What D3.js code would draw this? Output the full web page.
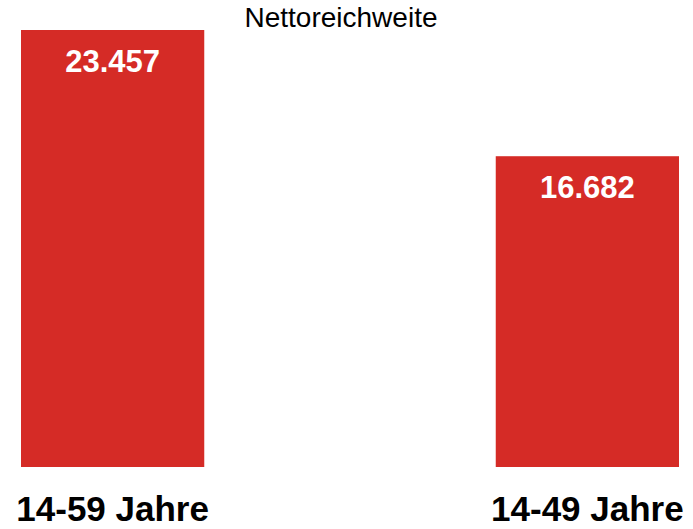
<!DOCTYPE html>
<html>
<head>
<meta charset="utf-8">
<script src="https://cdn.jsdelivr.net/npm/d3@7"></script>
<style>
  body { margin: 0; background: #fff; }
  svg { display: block; font-family: "Liberation Sans", Arial, sans-serif; }
</style>
</head>
<body>
<div id="wrapper"></div>
<script>
const categories = ["14-59 Jahre", "14-49 Jahre"];
const values = [23457, 16682];
const valueLabels = ["23.457", "16.682"];
const title = "Nettoreichweite";

const dimension = { width: 693, height: 529 };

const svg = d3.select("#wrapper").append("svg")
    .attr("width", dimension.width)
    .attr("height", dimension.height);

const xScaler = d3.scaleBand()
    .domain(categories)
    .range([21, 679])
    .paddingInner(0.614)
    .paddingOuter(0);

const yScaler = d3.scaleLinear()
    .domain([0, d3.max(values)])
    .range([467, 30]);

// bars
svg.append("g").selectAll("rect")
    .data(categories)
    .join("rect")
    .attr("x", d => xScaler(d))
    .attr("y", (d, i) => yScaler(values[i]))
    .attr("width", xScaler.bandwidth())
    .attr("height", (d, i) => yScaler(0) - yScaler(values[i]))
    .attr("fill", "#d52b26");

// value labels inside bars
svg.append("g").selectAll("text")
    .data(categories)
    .join("text")
    .attr("x", d => xScaler(d) + xScaler.bandwidth() / 2)
    .attr("y", (d, i) => yScaler(values[i]) + 42)
    .attr("text-anchor", "middle")
    .attr("fill", "#fff")
    .attr("font-weight", "bold")
    .attr("font-size", 31)
    .text((d, i) => valueLabels[i]);

// category axis
const xAxis = d3.axisBottom(xScaler).tickSize(0).tickPadding(29);
svg.append("g")
    .attr("transform", `translate(0, ${yScaler(0)})`)
    .call(xAxis)
    .call(g => g.select(".domain").remove())
    .call(g => g.selectAll("text")
        .attr("fill", "#000")
        .attr("font-family", "Liberation Sans, Arial, sans-serif")
        .attr("font-weight", "bold")
        .attr("font-size", 35));

// title
svg.append("text")
    .attr("x", 341)
    .attr("y", 27)
    .attr("text-anchor", "middle")
    .attr("font-size", 28)
    .attr("fill", "#000")
    .text(title);
</script>
</body>
</html>
